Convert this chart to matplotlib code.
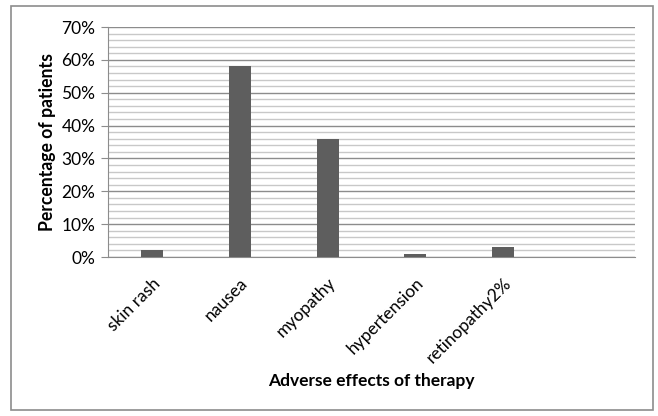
import matplotlib
matplotlib.use("Agg")
import matplotlib.pyplot as plt
from matplotlib.patches import Rectangle
from matplotlib.ticker import MultipleLocator, FuncFormatter

# data
categories = ["skin rash", "nausea", "myopathy", "hypertension", "retinopathy2%", ""]
percent = [2, 58, 36, 1, 3, 0]

plt.rcParams["font.family"] = ["Lato", "DejaVu Sans"]

fig = plt.figure(figsize=(6.58, 4.16), dpi=100)

# outer chart frame
fig.patches.append(Rectangle((11 / 658, 6 / 416), 642 / 658, 404 / 416,
                             transform=fig.transFigure, fill=False,
                             edgecolor="#8c8c8c", linewidth=1.2))

ax = fig.add_axes([108 / 658, 1 - 257 / 416, 527 / 658, 230 / 416])

x = range(len(categories))
ax.bar(x, percent, width=0.25, color="#5e5e5e", zorder=3)

ax.set_xlim(-0.5, len(categories) - 0.5)
ax.set_ylim(0, 70)
ax.yaxis.set_major_locator(MultipleLocator(10))
ax.yaxis.set_minor_locator(MultipleLocator(2))
ax.yaxis.set_major_formatter(FuncFormatter(lambda v, p: "%d%%" % v))
ax.grid(which="major", axis="y", color="#8c8c8c", linewidth=1.0, zorder=0)
ax.grid(which="minor", axis="y", color="#c8c8c8", linewidth=1.0, zorder=0)

ax.set_xticks(list(x))
ax.set_xticklabels(categories, rotation=45, ha="right", rotation_mode="anchor",
                   fontsize=12.5)
ax.tick_params(axis="x", length=0, pad=13)
ax.tick_params(axis="y", which="major", length=5, color="#8c8c8c",
               labelsize=12.5, pad=4)
ax.tick_params(axis="y", which="minor", length=0)

for side in ["top", "right"]:
    ax.spines[side].set_visible(False)
ax.spines["left"].set_color("#8c8c8c")
ax.spines["bottom"].set_color("#8c8c8c")

ax.set_ylabel("Percentage of patients", fontsize=12.7, fontweight="bold", labelpad=4)
ax.set_xlabel("Adverse effects of therapy", fontsize=12.5, fontweight="bold", labelpad=5)

fig.savefig("out.png", dpi=100)
